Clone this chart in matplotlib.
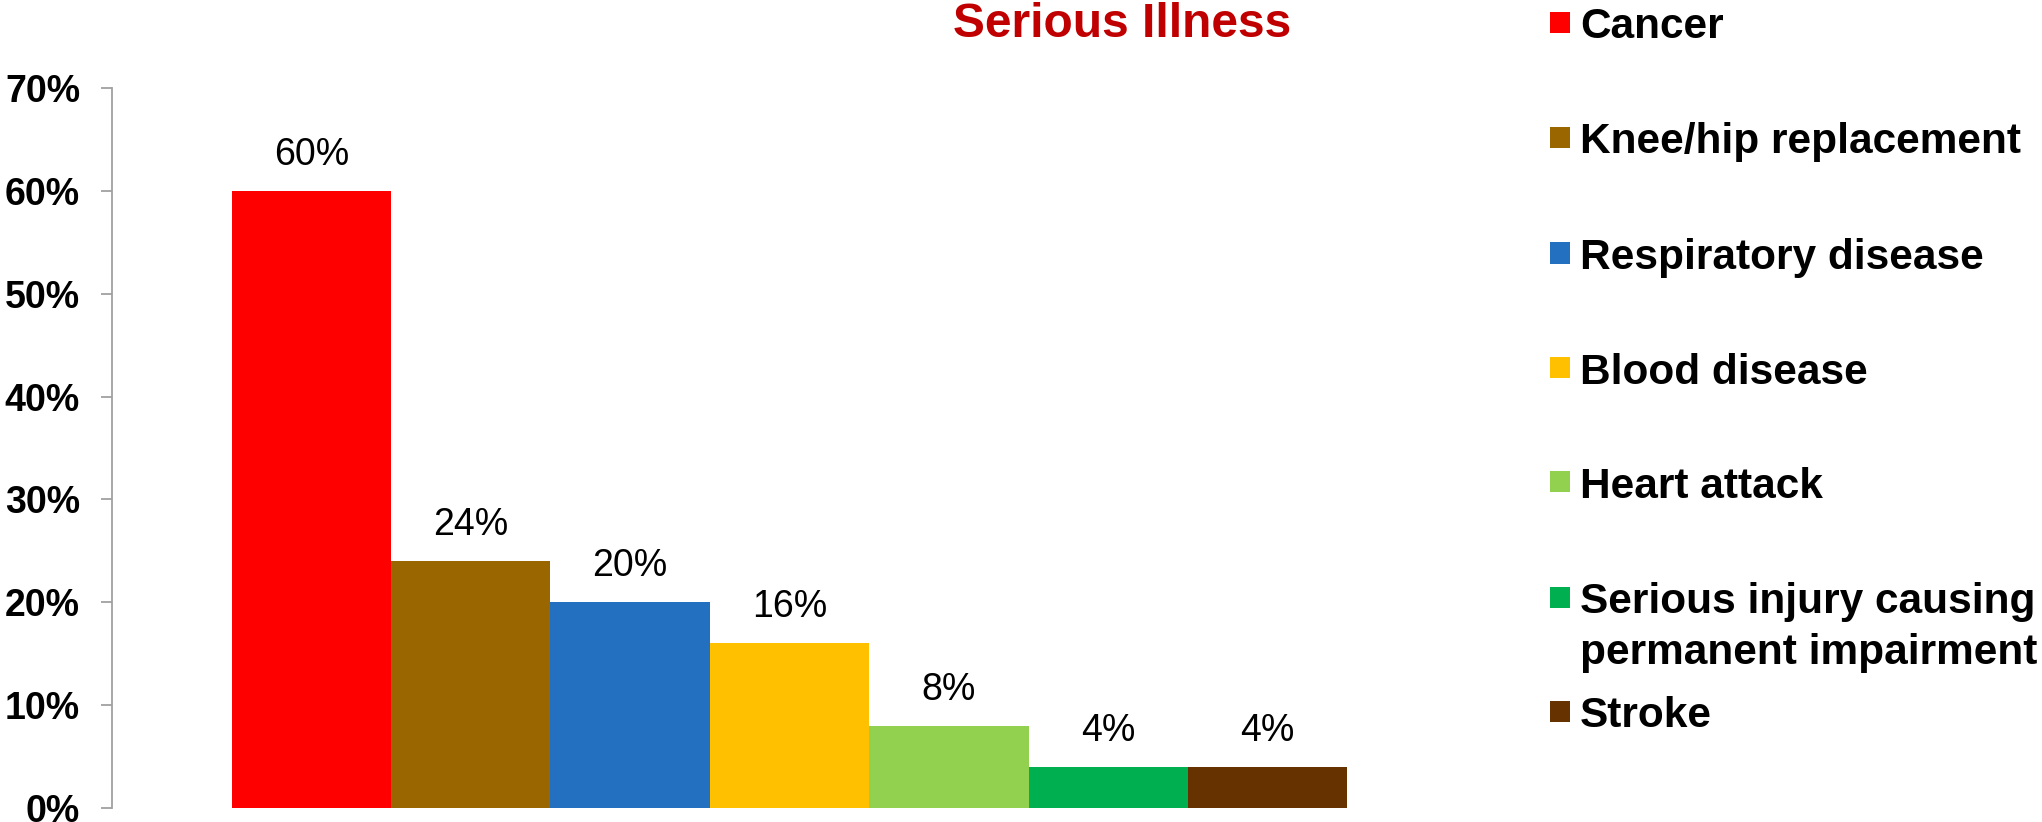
import matplotlib.pyplot as plt
from matplotlib.patches import Rectangle

plt.rcParams['font.family'] = ['Liberation Sans', 'DejaVu Sans']

# Data
categories = ["Cancer", "Knee/hip replacement", "Respiratory disease",
              "Blood disease", "Heart attack",
              "Serious injury causing\npermanent impairment", "Stroke"]
values = [0.60, 0.24, 0.20, 0.16, 0.08, 0.04, 0.04]
labels = ["60%", "24%", "20%", "16%", "8%", "4%", "4%"]
colors = ["#FF0000", "#996600", "#2370C0", "#FFC000",
          "#92D050", "#00B050", "#663300"]
yticks = [0, 0.1, 0.2, 0.3, 0.4, 0.5, 0.6, 0.7]
ytick_labels = ["0%", "10%", "20%", "30%", "40%", "50%", "60%", "70%"]

W, H = 2042, 822
fig = plt.figure(figsize=(W / 100, H / 100), dpi=100)
ax = fig.add_axes([112 / W, 14 / H, 1355 / W, 720 / H])

x = list(range(len(values)))
ax.bar(x, values, width=1.0, color=colors, linewidth=0)
for xi, v, lab in zip(x, values, labels):
    ax.annotate(lab, (xi, v), xytext=(0, 13), textcoords='offset points',
                ha='center', va='bottom', fontsize=27)

ax.set_xlim(-1.25, 7.25)
ax.set_ylim(0, 0.7)
ax.set_yticks(yticks)
ax.set_yticklabels(ytick_labels, fontsize=27, fontweight='bold')
ax.set_xticks([])
for s in ['top', 'right', 'bottom']:
    ax.spines[s].set_visible(False)
ax.spines['left'].set_color('#A0A0A0')
ax.spines['left'].set_linewidth(1.3)
ax.tick_params(axis='y', length=8, width=1.3, color='#A0A0A0', pad=15)

fig.text(1122 / W, 1 - 2 / H, "Serious Illness", ha='center', va='top',
         fontsize=34.5, fontweight='bold', color='#C00000')

# legend drawn by hand
row_y = [23, 138, 253, 368, 482, 597, 711]
for cat, col, yc in zip(categories, colors, row_y):
    fig.add_artist(Rectangle((1550 / W, 1 - (yc + 10.5) / H), 20 / W, 21 / H,
                             transform=fig.transFigure, color=col, lw=0))
    first, *rest = cat.split("\n")
    fig.text(1580 / W, 1 - yc / H, first, ha='left', va='center_baseline',
             fontsize=30.5, fontweight='bold')
    for k, line in enumerate(rest, start=1):
        fig.text(1580 / W, 1 - (yc + 51 * k) / H, line, ha='left',
                 va='center_baseline', fontsize=30.5, fontweight='bold')

fig.savefig("out.png", dpi=100)
